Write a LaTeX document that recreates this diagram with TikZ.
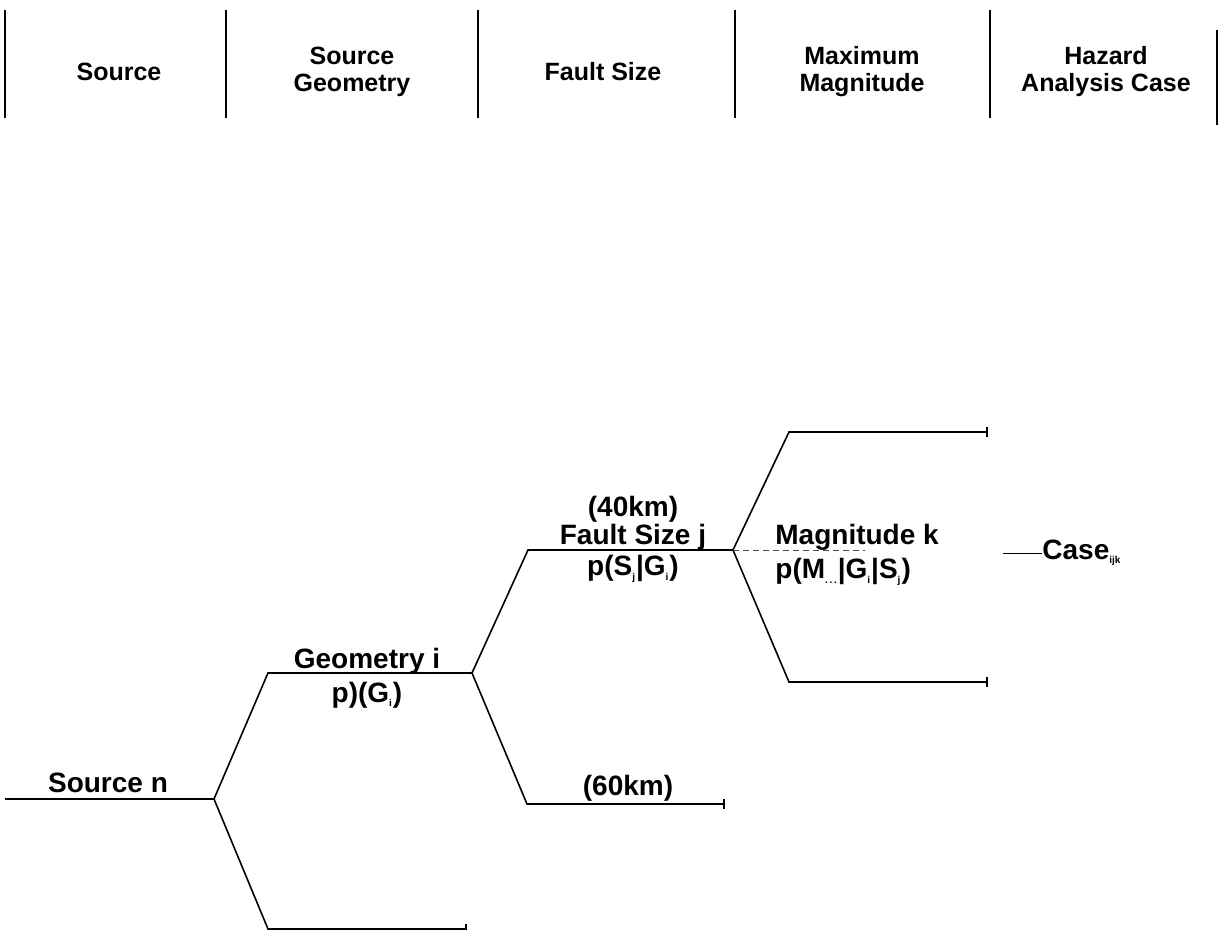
\documentclass[tikz,border=0pt]{standalone}
\usepackage{fontspec}
\setmainfont{Liberation Sans}
\usetikzlibrary{arrows.meta,positioning}

\newcommand{\idx}[1]{\textsubscript{\tiny #1}}

\tikzset{
    colhead/.style={font=\fontsize{12.5}{13.5}\selectfont\bfseries, align=center, inner sep=0pt},
    brlabel/.style={font=\fontsize{14}{16}\selectfont\bfseries, inner sep=0pt},
    branch/.style={line width=0.8pt, black},
    endbranch/.style={line width=0.8pt, black, -{Bar[width=5pt]}},
    colsep/.style={line width=0.6pt, black},
    gapline/.style={line width=0.5pt, black!70, dash pattern=on 3pt off 2pt},
}

\begin{document}
\begin{tikzpicture}[x=0.5pt, y=-0.5pt]
    \useasboundingbox (0,0) rectangle (1221,930);
    % column headings
    \foreach \x in {5,226,478,735,990}
        \draw[colsep] (\x,10) -- (\x,118);
    \draw[colsep, line width=1.2pt] (1217,30) -- (1217,125);
    \foreach \x/\name/\txt in {119/src/Source, 352/geo/{Source\\Geometry}, 603/fs/Fault Size, 862/mag/{Maximum\\Magnitude}, 1106/case/{Hazard\\Analysis Case}}
        \node[colhead] (h\name) at (\x,72) {\txt};

    % branch points
    \coordinate (s0) at (5,799);
    \coordinate (s) at (214,799);
    \coordinate (g) at (268,673);
    \coordinate (gE) at (472,673);
    \coordinate (gL) at (268,929);
    \coordinate (gLE) at (467,929);
    \coordinate (f) at (528,550);
    \coordinate (fE) at (733,550);
    \coordinate (fL) at (527,804);
    \coordinate (fLE) at (725,804);
    \coordinate (mU) at (789,432);
    \coordinate (mUE) at (988,432);
    \coordinate (mL) at (789,682);
    \coordinate (mLE) at (988,682);
    \coordinate (mGap) at (865,550);
    \coordinate (c0) at (1003,553);

    % tree
    \draw[branch] (s0) -- (s);
    \draw[branch] (s) -- (g) -- (gE);
    \draw[endbranch] (s) -- (gL) -- (gLE);
    \draw[branch] (gE) -- (f) -- (fE);
    \draw[endbranch] (gE) -- (fL) -- (fLE);
    \draw[endbranch] (fE) -- (mU) -- (mUE);
    \draw[endbranch] (fE) -- (mL) -- (mLE);
    \draw[gapline] (fE) -- (mGap);

    % labels
    \node[brlabel] (srcn) at (108,783) {Source n};
    \node[brlabel] (geoi) at (367,661) {Geometry i};
    \node[brlabel] (geop) at (367,695) {p)(G\idx{i})};
    \node[brlabel] (km40) at (633,509) {(40km)};
    \node[brlabel] (fsj) at (633,537) {Fault Size j};
    \node[brlabel] (fsp) at (633,569) {p(S\idx{j}|G\idx{i})};
    \node[brlabel] (km60) at (628,788) {(60km)};
    \node[brlabel, anchor=west] (magk) at (775,537) {Magnitude k};
    \node[brlabel, anchor=west] (magp) at (775,572) {p(M\idx{.\,.\,.}|G\idx{i}|S\idx{j})};
    \node[brlabel, anchor=west] (casen) at (1042,553) {Case\idx{ijk}};
    \draw[branch, line width=0.5pt] (c0) -- (casen);
\end{tikzpicture}
\end{document}
